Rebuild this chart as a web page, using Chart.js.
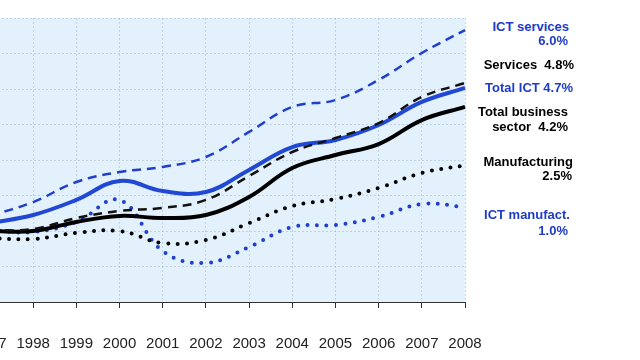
<!DOCTYPE html>
<html>
<head>
<meta charset="utf-8">
<script src="https://cdn.jsdelivr.net/npm/chart.js@4/dist/chart.umd.min.js"></script>
<style>
  html, body { margin: 0; padding: 0; background: #ffffff; }
  body { width: 640px; height: 360px; overflow: hidden; position: relative; font-family: "Liberation Sans", Arial, sans-serif; }
  #wrap { position: absolute; left: -30px; top: 0; width: 520px; height: 360px; }
  .lbl { position: absolute; font-weight: bold; font-size: 13px; line-height: 13px; white-space: pre; text-align: right; }
  .blue { color: #1e3cc8; }
  .black { color: #000000; }
</style>
</head>
<body>
<div id="wrap"><canvas id="c" width="520" height="360"></canvas></div>

<div class="lbl blue"  style="right:71px; top:20px;">ICT services</div>
<div class="lbl blue"  style="right:72px; top:34px;">6.0%</div>
<div class="lbl black" style="right:66px; top:58px;">Services  4.8%</div>
<div class="lbl blue"  style="right:67px; top:81px;">Total ICT 4.7%</div>
<div class="lbl black" style="right:72px; top:105px;">Total business</div>
<div class="lbl black" style="right:72px; top:120px;">sector  4.2%</div>
<div class="lbl black" style="right:67px; top:155px;">Manufacturing</div>
<div class="lbl black" style="right:68px; top:169px;">2.5%</div>
<div class="lbl blue"  style="right:70px; top:208px;">ICT manufact.</div>
<div class="lbl blue"  style="right:72px; top:224px;">1.0%</div>

<script>
// ---- data (index, 1995 = 100) ----
const years = ['1997','1998','1999','2000','2001','2002','2003','2004','2005','2006','2007','2008'];
const ictServices   = [108.5, 116.3, 127.6, 133.2, 136.1, 141.7, 155.8, 169.9, 173.8, 185.1, 200.3, 213.2];
const services      = [100.4, 101.1, 107.3, 111.3, 113.0, 117.5, 131.0, 144.5, 152.4, 160.8, 175.5, 183.4];
const totalIct      = [104.5, 109.0, 117.5, 128.2, 122.5, 122.0, 134.4, 147.3, 151.3, 159.7, 172.7, 180.6];
const totalBusiness = [100.0, 100.0, 105.1, 108.5, 107.3, 109.0, 119.2, 135.5, 142.8, 149.0, 162.5, 169.9];
const manufacturing = [96.0, 95.5, 98.9, 100.0, 93.2, 94.9, 104.5, 114.1, 118.0, 124.2, 132.7, 137.0];
const ictManuf      = [100.6, 99.4, 105.1, 117.5, 88.7, 82.0, 91.0, 102.3, 103.4, 107.9, 115.2, 113.5];
const yMin = 60, yMax = 220, yStep = 20;

const BLUE = '#1f3fcc';
const BLUE_SOLID = '#2148d2';
const GRID = 'rgba(160,178,195,0.5)';

const plotBg = {
  id: 'plotBg',
  beforeDraw(chart) {
    const {ctx, chartArea: a} = chart;
    ctx.save();
    ctx.fillStyle = '#e3f1fc';
    ctx.fillRect(a.left, a.top, a.right - a.left, a.bottom - a.top);
    ctx.restore();
  }
};

new Chart(document.getElementById('c'), {
  type: 'line',
  data: {
    labels: years,
    datasets: [
      { label: 'ICT services', data: ictServices, borderColor: BLUE, borderWidth: 2.5, borderDash: [9, 6], order: 1 },
      { label: 'Services', data: services, borderColor: '#111111', borderWidth: 2.5, borderDash: [9, 6], order: 2 },
      { label: 'Total ICT', data: totalIct, borderColor: BLUE_SOLID, borderWidth: 4, order: 3 },
      { label: 'Total business sector', data: totalBusiness, borderColor: '#000000', borderWidth: 4, order: 4 },
      { label: 'Manufacturing', data: manufacturing, borderColor: '#000000', borderWidth: 4, borderDash: [0, 9.5], borderCapStyle: 'round', order: 5 },
      { label: 'ICT manufact.', data: ictManuf, borderColor: BLUE, borderWidth: 4, borderDash: [0, 9.5], borderCapStyle: 'round', order: 6 }
    ]
  },
  options: {
    responsive: false,
    animation: false,
    events: [],
    layout: { padding: { left: 20, right: 25, top: 18, bottom: 0 } },
    elements: {
      line: { tension: 0.4, fill: false },
      point: { radius: 0 }
    },
    plugins: { legend: { display: false }, tooltip: { enabled: false } },
    scales: {
      x: {
        offset: false,
        afterFit(scale) { scale.paddingLeft = 0; scale.paddingRight = 0; scale.height = 58; },
        grid: {
          color: GRID, lineWidth: 1,
          drawTicks: true, tickLength: 6, tickColor: '#333333', tickWidth: 1, tickBorderDash: []
        },
        border: { display: true, color: '#333333', width: 1, dash: [2, 2] },
        ticks: {
          autoSkip: false, maxRotation: 0, padding: 27,
          color: '#222222', font: { family: 'Liberation Sans', size: 15 }
        }
      },
      y: {
        min: yMin, max: yMax,
        afterFit(scale) { scale.width = 0; scale.paddingTop = 0; scale.paddingBottom = 0; },
        grid: { color: GRID, lineWidth: 1, drawTicks: false },
        border: { display: false, dash: [2, 2] },
        ticks: { display: false, stepSize: yStep }
      }
    }
  },
  plugins: [plotBg]
});
</script>
</body>
</html>
